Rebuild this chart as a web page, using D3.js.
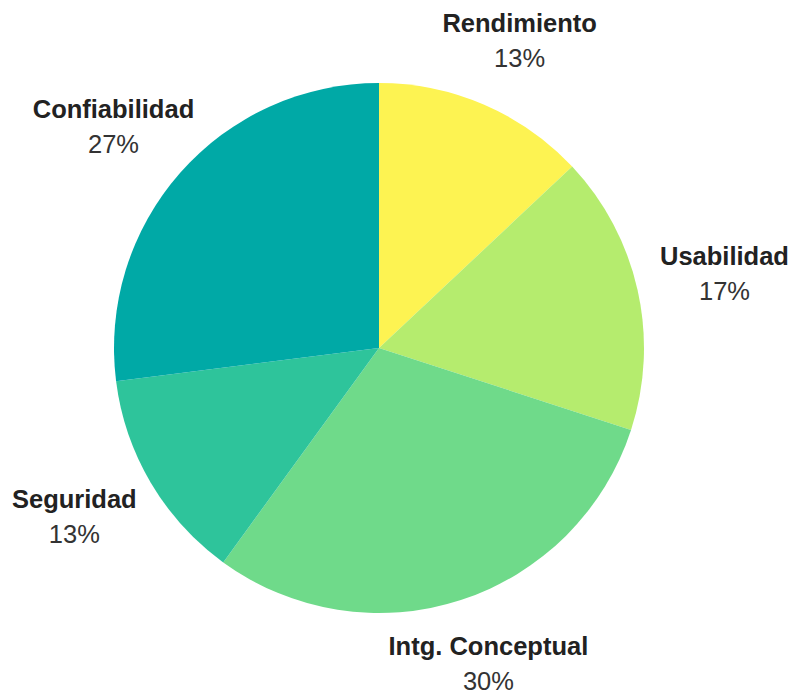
<!DOCTYPE html>
<html>
<head>
<meta charset="utf-8">
<script src="https://cdn.jsdelivr.net/npm/d3@7"></script>
<style>
  html, body { margin: 0; padding: 0; background: #ffffff; }
  svg { display: block; }
</style>
</head>
<body>
<svg id="chart" width="798" height="691"></svg>
<script>
// Quality attributes and their share of the total (percent)
const categories = ["Rendimiento", "Usabilidad", "Intg. Conceptual", "Seguridad", "Confiabilidad"];
const values = [13, 17, 30, 13, 27];
const colors = ["#fdf352", "#b5ec6e", "#6fda8a", "#2ec49b", "#00a9a6"];

const width = 798, height = 691;
const cx = 379, cy = 348, radius = 265;
// Label blocks are centred on an ellipse around the pie (wider horizontally)
const labelRx = 354, labelRy = 333;

const svg = d3.select("#chart");
const g = svg.append("g").attr("transform", `translate(${cx},${cy})`);

const data = categories.map((c, i) => ({ name: c, value: values[i], color: colors[i] }));

const pie = d3.pie().value(d => d.value).sort(null);
const arc = d3.arc().innerRadius(0).outerRadius(radius);
const arcs = pie(data);

g.selectAll("path.slice")
  .data(arcs)
  .join("path")
  .attr("class", "slice")
  .attr("d", arc)
  .attr("fill", d => d.data.color);

const labels = g.selectAll("g.label")
  .data(arcs)
  .join("g")
  .attr("class", "label")
  .attr("transform", d => {
    const a = (d.startAngle + d.endAngle) / 2;
    const x = labelRx * Math.sin(a);
    const y = -labelRy * Math.cos(a) - 1;
    return `translate(${x},${y})`;
  });

labels.append("text")
  .attr("text-anchor", "middle")
  .attr("y", -9)
  .style("font-family", "'Liberation Sans', Arial, sans-serif")
  .style("font-weight", "bold")
  .style("font-size", "25.5px")
  .style("fill", "#222")
  .text(d => d.data.name);

labels.append("text")
  .attr("text-anchor", "middle")
  .attr("y", 26)
  .style("font-family", "'Liberation Sans', Arial, sans-serif")
  .style("font-size", "25.5px")
  .style("fill", "#333")
  .text(d => d.data.value + "%");
</script>
</body>
</html>
